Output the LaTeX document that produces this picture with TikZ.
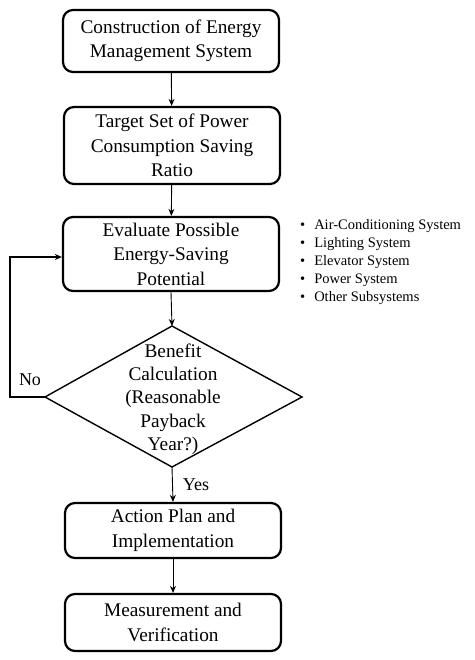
\documentclass[tikz,border=0pt]{standalone}
\usepackage{fontspec}
\setmainfont{Liberation Serif}
\usetikzlibrary{shapes.geometric,arrows.meta}
\begin{document}
\begin{tikzpicture}[x=1pt,y=-1pt,
  box/.style={draw, line width=2.2pt, rounded corners=10pt, minimum width=216pt, align=center, font=\fontsize{19.3}{24.5}\selectfont, inner sep=0pt},
  arr/.style={-{Stealth[length=7pt,width=6pt]}, line width=0.9pt},
  lbl/.style={font=\fontsize{18}{22}\selectfont}]
\useasboundingbox (0,0) rectangle (474,660);
\node[box, minimum height=62pt] (b1) at (171,41) {Construction of Energy\\Management  System};
\node[box, minimum height=77pt] (b2) at (172,145.5) {Target Set of Power\\Consumption Saving\\Ratio};
\node[box, minimum height=74pt] (b3) at (171,254) {Evaluate Possible\\Energy-Saving\\Potential};
\coordinate (dt) at (172,326);
\coordinate (db) at (172,467);
\coordinate (dl) at (45,397);
\coordinate (dr) at (302,397);
\draw[line width=1.4pt] (dt) -- (dr) -- (db) -- (dl) -- cycle;
\node[align=center, font=\fontsize{19.3}{23.3}\selectfont] (dtext) at (173,399) {Benefit\\Calculation\\(Reasonable\\Payback\\Year?)};
\node[box, minimum height=55pt] (b4) at (173,530.5) {Action Plan and\\Implementation};
\node[box, minimum height=57pt] (b5) at (173,622.5) {Measurement  and\\Verification};
\draw[arr] (b1) -- (b2);
\draw[arr] (b2) -- (b3);
\draw[arr] (b3.south) -- (dt);
\draw[arr] (db) -- (b4.north);
\draw[arr] (b4) -- (b5);
\coordinate (l1) at (10,397);
\coordinate (l2) at (10,257);
\draw[arr, line width=1.4pt] (dl) -- (l1) -- (l2) -- (b3.west |- l2);
\node[lbl] (no) at (30,380) {No};
\node[lbl] (yes) at (196,485) {Yes};
\node[align=left, anchor=north west, font=\fontsize{14.5}{18}\selectfont, inner sep=0pt] (list) at (300,219) {%
\textbullet\hspace{9pt}Air-Conditioning  System\\
\textbullet\hspace{9pt}Lighting  System\\
\textbullet\hspace{9pt}Elevator  System\\
\textbullet\hspace{9pt}Power System\\
\textbullet\hspace{9pt}Other Subsystems};
\end{tikzpicture}
\end{document}
